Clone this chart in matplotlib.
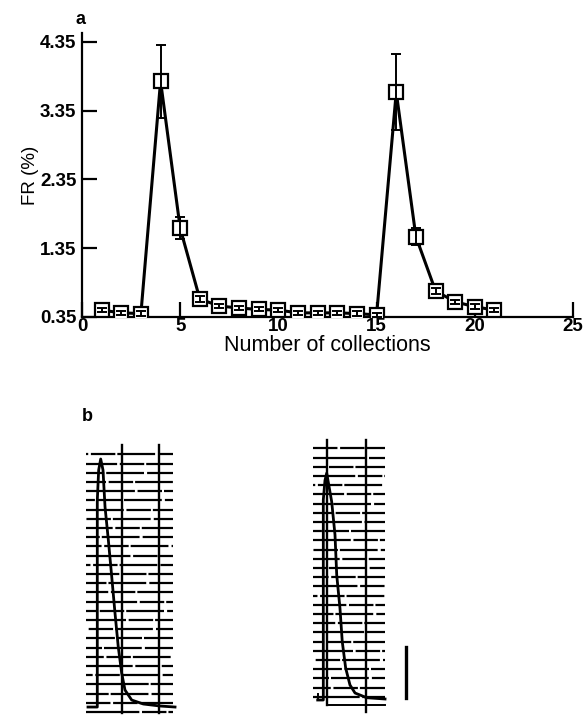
import matplotlib
matplotlib.use("Agg")
import matplotlib.pyplot as plt
import numpy as np

plt.rcParams['font.family'] = ['Liberation Sans', 'DejaVu Sans']

# ---- Panel a data ----
collections = [1, 2, 3, 4, 5, 6, 7, 8, 9, 10, 11, 12, 13, 14, 15, 16, 17, 18, 19, 20, 21]
fr_values = [0.45, 0.41, 0.40, 3.78, 1.64, 0.61, 0.51, 0.48, 0.46, 0.45, 0.41,
             0.41, 0.41, 0.40, 0.38, 3.62, 1.52, 0.73, 0.57, 0.50, 0.45]
fr_errors = [0.03, 0.03, 0.03, 0.53, 0.16, 0.04, 0.03, 0.03, 0.03, 0.03, 0.03,
             0.03, 0.03, 0.03, 0.03, 0.55, 0.13, 0.04, 0.03, 0.04, 0.03]
y_ticks = [0.35, 1.35, 2.35, 3.35, 4.35]
x_ticks = [0, 5, 10, 15, 20, 25]

# ---- Panel b data (chart-recorder traces, in chart divisions) ----
left_trace_x = [0.0, 1.01, 1.01, 1.16, 1.38, 1.63, 1.85, 2.21, 2.58, 2.93, 3.29,
                3.66, 4.02, 4.75, 6.01, 7.83, 9.46]
left_trace_y = [0.54, 0.54, 23.0, 26.3, 27.5, 26.3, 22.3, 18.7, 14.7, 10.8, 7.07,
                4.24, 2.39, 1.30, 0.87, 0.65, 0.54]
right_trace_x = [0.51, 1.12, 1.12, 1.30, 1.49, 2.03, 2.39, 2.58, 2.93, 3.18, 3.55,
                 4.02, 4.57, 5.84, 7.83]
right_trace_y = [-0.36, -0.36, 21.4, 23.5, 24.3, 21.2, 17.6, 13.2, 9.64, 5.98, 3.12,
                 1.27, 0.40, -0.11, -0.25]

W, H = 583, 716
fig = plt.figure(figsize=(W / 100, H / 100), dpi=100)

def frac(left_px, top_px, right_px, bottom_px):
    return [left_px / W, 1 - bottom_px / H, (right_px - left_px) / W, (bottom_px - top_px) / H]

# ---------------- Panel a ----------------
ax = fig.add_axes(frac(82, 33, 573, 317))
ax.plot(collections, fr_values, color='black', lw=2.2, zorder=2)
ax.plot(collections, fr_values, linestyle='none', marker='s', ms=9.5,
        mfc='white', mec='black', mew=1.6, zorder=3)
ax.errorbar(collections, fr_values, yerr=fr_errors, fmt='none', ecolor='black',
            elinewidth=1.4, capsize=3.5, capthick=1.4, zorder=4)
ax.set_xlim(0, 25)
ax.set_ylim(0.35, 4.48)
ax.set_xticks(x_ticks)
ax.set_yticks(y_ticks)
ax.set_yticklabels([f"{v:.2f}" for v in y_ticks])
for s in ['top', 'right']:
    ax.spines[s].set_visible(False)
for s in ['left', 'bottom']:
    ax.spines[s].set_linewidth(1.6)
ax.tick_params(axis='both', direction='in', length=11, width=1.6, labelsize=13.5)
ax.tick_params(axis='y', pad=4)
ax.tick_params(axis='x', pad=1)
for lbl in ax.get_xticklabels() + ax.get_yticklabels():
    lbl.set_fontweight('bold')
ax.set_xlabel('Number of collections', fontsize=15.5, labelpad=0)
ax.set_ylabel('FR (%)', fontsize=13.5, labelpad=1)
fig.text(80 / W, 1 - 20 / H, 'a', fontsize=13, fontweight='bold', ha='center', va='center')
fig.text(87 / W, 1 - 417 / H, 'b', fontsize=13, fontweight='bold', ha='center', va='center')

# ---------------- Panel b ----------------
unit = 9.2

def dash(k):
    return ((k * 13) % 31, (24, 1.2, 11, 0.9, 17, 1.4))

# left trace
axl = fig.add_axes(frac(88 - unit, 712 - 30 * unit, 88 + 11 * unit, 712 + 1 * unit))
axl.set_xlim(-1, 11)
axl.set_ylim(-1, 30)
axl.axis('off')
for k in range(29):
    axl.plot([-0.2, 9.2], [k, k], color='black', lw=1.6,
             linestyle=dash(k), clip_on=False)
for vx in [3.66, 7.72]:
    axl.plot([vx, vx], [-0.1, 29.0], color='black', lw=1.7, clip_on=False)
axl.plot(left_trace_x, left_trace_y, color='black', lw=2.0, clip_on=False)

# right trace
axr = fig.add_axes(frac(313 - unit, 696.7 - 30 * unit, 313 + 12 * unit, 696.7 + 2 * unit))
axr.set_xlim(-1, 12)
axr.set_ylim(-2, 30)
axr.axis('off')
for k in range(28):
    axr.plot([0, 7.83], [k, k], color='black', lw=1.6, linestyle=dash(k + 5), clip_on=False)
axr.plot([1.49, 1.49], [-0.9, 27.9], color='black', lw=1.7, clip_on=False)
axr.plot([5.73, 5.73], [-1.66, 27.9], color='black', lw=1.7, clip_on=False)
axr.plot([1.49, 7.83], [-0.9, -0.9], color='black', lw=1.4, clip_on=False)
axr.plot([0.51, 0.51], [-0.36, 0.3], color='black', lw=1.4, clip_on=False)
axr.plot(right_trace_x, right_trace_y, color='black', lw=2.0, clip_on=False)
# scale bar
axr.plot([10.08, 10.08], [-0.17, 5.45], color='black', lw=2.4, clip_on=False)

fig.savefig('out.png', dpi=100)
